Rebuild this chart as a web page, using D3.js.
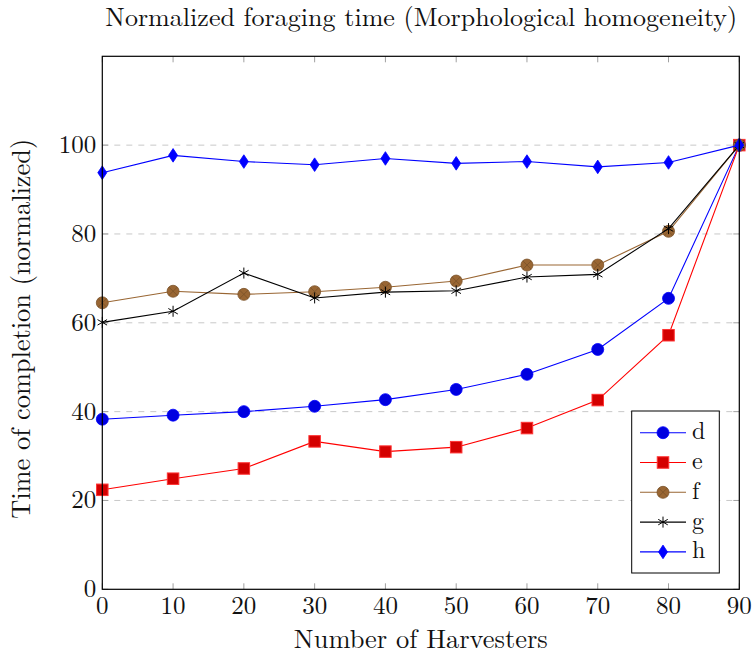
<!DOCTYPE html>
<html>
<head>
<meta charset="utf-8">
<script src="https://cdn.jsdelivr.net/npm/d3@7"></script>
<style>
  html, body { margin: 0; padding: 0; background: #fff; }
  svg { display: block; }
</style>
</head>
<body>
<svg id="chart" width="756" height="661"></svg>
<script>
// Number of harvesters on the x axis
const harvesters = [0, 10, 20, 30, 40, 50, 60, 70, 80, 90];

// Normalized completion time for each configuration
const seriesD = [38.3, 39.2, 40.0, 41.2, 42.7, 45.0, 48.4, 54.0, 65.5, 100];
const seriesE = [22.4, 24.9, 27.2, 33.3, 31.0, 32.0, 36.3, 42.6, 57.2, 100];
const seriesF = [64.5, 67.1, 66.4, 67.0, 68.0, 69.4, 73.0, 73.0, 80.6, 100];
const seriesG = [60.1, 62.6, 71.2, 65.6, 66.9, 67.2, 70.3, 70.9, 81.2, 100];
const seriesH = [93.8, 97.7, 96.3, 95.6, 97.0, 95.9, 96.3, 95.1, 96.1, 100];

const seriesNames = ["d", "e", "f", "g", "h"];
const xTicks = [0, 10, 20, 30, 40, 50, 60, 70, 80, 90];
const yTicks = [0, 20, 40, 60, 80, 100];
const gridValues = [20, 40, 60, 80, 100];

const titleText = "Normalized foraging time (Morphological homogeneity)";
const xLabelText = "Number of Harvesters";
const yLabelText = "Time of completion (normalized)";

const FONT = "'Latin Modern Roman', 'Liberation Serif', serif";

const styles = {
  d: { stroke: "#0000ff", fill: "#0000e0", mark: "circle" },
  e: { stroke: "#ff0000", fill: "#d40000", markStroke: "#ff3333", mark: "square" },
  f: { stroke: "#996633", fill: "#996633", markStroke: "#7a5228", mark: "otimes" },
  g: { stroke: "#000000", fill: "none", mark: "star" },
  h: { stroke: "#0000ff", fill: "#0000ff", mark: "diamond" }
};

const values = [seriesD, seriesE, seriesF, seriesG, seriesH];
const series = seriesNames.map((n, i) => ({
  name: n,
  points: harvesters.map((h, j) => ({ x: h, y: values[i][j] }))
}));

const svg = d3.select("#chart");
const margin = { left: 102.3, right: 756 - 739.3, top: 56.3, bottom: 661 - 589.3 };
const W = 756 - margin.left - margin.right;
const H = 661 - margin.top - margin.bottom;

const x = d3.scaleLinear().domain([0, 90]).range([margin.left, margin.left + W]);
const y = d3.scaleLinear().domain([0, 120]).range([margin.top + H, margin.top]);

// Dashed horizontal grid
svg.append("g").selectAll("line").data(gridValues).join("line")
  .attr("x1", x(0)).attr("x2", x(90))
  .attr("y1", d => y(d)).attr("y2", d => y(d))
  .attr("stroke", "#c8c8c8").attr("stroke-width", 1)
  .attr("stroke-dasharray", "6,6");

// Inward ticks on all four sides
const tickLen = 6;
const tickColor = "#a0a0a0";
const ticksG = svg.append("g").attr("stroke", tickColor).attr("stroke-width", 1);
xTicks.forEach(t => {
  ticksG.append("line").attr("x1", x(t)).attr("x2", x(t))
    .attr("y1", y(0)).attr("y2", y(0) - tickLen);
  ticksG.append("line").attr("x1", x(t)).attr("x2", x(t))
    .attr("y1", y(120)).attr("y2", y(120) + tickLen);
});
yTicks.forEach(t => {
  ticksG.append("line").attr("x1", x(0)).attr("x2", x(0) + tickLen)
    .attr("y1", y(t)).attr("y2", y(t));
  ticksG.append("line").attr("x1", x(90)).attr("x2", x(90) - tickLen)
    .attr("y1", y(t)).attr("y2", y(t));
});

// Tick labels
svg.append("g").selectAll("text").data(xTicks).join("text")
  .attr("x", d => x(d)).attr("y", y(0) + 25)
  .attr("text-anchor", "middle").attr("font-size", 25).style("font-family", FONT).attr("fill", "#111")
  .text(d => d);
svg.append("g").selectAll("text").data(yTicks).join("text")
  .attr("x", x(0) - 6).attr("y", d => y(d) + 8)
  .attr("text-anchor", "end").attr("font-size", 25).style("font-family", FONT).attr("fill", "#111")
  .text(d => d);

// Line and marker drawing
const line = d3.line().x(d => x(d.x)).y(d => y(d.y));

function drawMarker(g, type, st, cx, cy, scale) {
  const s = scale || 1;
  if (type === "circle") {
    g.append("circle").attr("cx", cx).attr("cy", cy).attr("r", 6 * s)
      .attr("fill", st.fill).attr("stroke", st.stroke).attr("stroke-width", 0.8);
  } else if (type === "square") {
    const a = 11.5 * s;
    g.append("rect").attr("x", cx - a / 2).attr("y", cy - a / 2)
      .attr("width", a).attr("height", a)
      .attr("fill", st.fill).attr("stroke", st.markStroke).attr("stroke-width", 1);
  } else if (type === "otimes") {
    const r = 6 * s;
    g.append("circle").attr("cx", cx).attr("cy", cy).attr("r", r)
      .attr("fill", st.fill).attr("stroke", st.markStroke).attr("stroke-width", 0.8);
    const k = r * 0.7;
    g.append("path")
      .attr("d", `M${cx - k},${cy - k}L${cx + k},${cy + k}M${cx - k},${cy + k}L${cx + k},${cy - k}`)
      .attr("stroke", st.markStroke).attr("stroke-width", 0.8);
  } else if (type === "star") {
    const r = 5.5 * s;
    let d = "";
    for (let i = 0; i < 3; i++) {
      const a = Math.PI / 2 + i * Math.PI / 3;
      d += `M${cx + r * Math.cos(a)},${cy - r * Math.sin(a)}L${cx - r * Math.cos(a)},${cy + r * Math.sin(a)}`;
    }
    g.append("path").attr("d", d).attr("stroke", "#000").attr("stroke-width", 1).attr("fill", "none");
  } else if (type === "diamond") {
    const w = 4.5 * s, h = 6.8 * s;
    g.append("path")
      .attr("d", `M${cx},${cy - h}L${cx + w},${cy}L${cx},${cy + h}L${cx - w},${cy}Z`)
      .attr("fill", st.fill).attr("stroke", st.stroke).attr("stroke-width", 0.8);
  }
}

series.forEach(s => {
  const st = styles[s.name];
  const g = svg.append("g").attr("class", "series-" + s.name);
  g.append("path").datum(s.points).attr("d", line)
    .attr("fill", "none").attr("stroke", st.stroke).attr("stroke-width", 1.1);
  s.points.forEach(p => drawMarker(g, st.mark, st, x(p.x), y(p.y)));
});

// Plot frame
svg.append("rect").attr("x", x(0)).attr("y", y(120))
  .attr("width", W).attr("height", H)
  .attr("fill", "none").attr("stroke", "#000").attr("stroke-width", 1.2);

// Legend
const lg = svg.append("g");
const lgX = 631.7, lgY = 411, lgW = 87.6, lgH = 162;
lg.append("rect").attr("x", lgX).attr("y", lgY).attr("width", lgW).attr("height", lgH)
  .attr("fill", "#fff").attr("stroke", "#000").attr("stroke-width", 1);
seriesNames.forEach((n, i) => {
  const st = styles[n];
  const cy = 432.7 + i * 29.8;
  lg.append("line").attr("x1", 640).attr("x2", 686).attr("y1", cy).attr("y2", cy)
    .attr("stroke", st.stroke).attr("stroke-width", 1.1);
  drawMarker(lg, st.mark, st, 663, cy, 1);
  lg.append("text").attr("x", 692).attr("y", cy + 6.5)
    .attr("font-size", 24).style("font-family", FONT).attr("fill", "#111").text(n);
});

// Titles, sized to the width of the typeset labels
function fitText(sel, target) {
  const w = sel.node().getComputedTextLength();
  const fs = parseFloat(sel.attr("font-size"));
  sel.attr("font-size", fs * target / w);
}
const title = svg.append("text").attr("x", (x(0) + x(90)) / 2 + 0.5).attr("y", 26)
  .attr("text-anchor", "middle").attr("font-size", 20).style("font-family", FONT).attr("fill", "#111").text(titleText);
fitText(title, 632);

const xl = svg.append("text").attr("x", (x(0) + x(90)) / 2).attr("y", 648)
  .attr("text-anchor", "middle").attr("font-size", 20).style("font-family", FONT).attr("fill", "#111").text(xLabelText);
fitText(xl, 254);

const yl = svg.append("text")
  .attr("transform", `translate(30,${(y(0) + y(120)) / 2 + 6}) rotate(-90)`)
  .attr("text-anchor", "middle").attr("font-size", 20).style("font-family", FONT).attr("fill", "#111").text(yLabelText);
fitText(yl, 380);
</script>
</body>
</html>
